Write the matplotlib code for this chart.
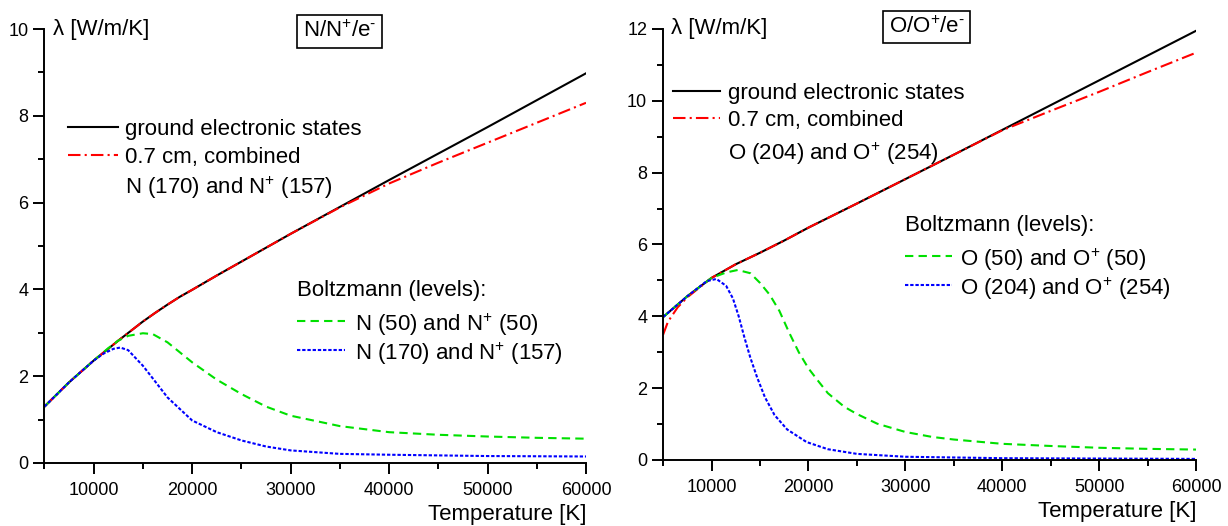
import numpy as np
import matplotlib
matplotlib.use("Agg")
import matplotlib.pyplot as plt
from matplotlib.ticker import MultipleLocator

plt.rcParams.update({
    'font.family': ['Liberation Sans', 'DejaVu Sans'],
    'mathtext.fontset': 'custom',
    'mathtext.rm': 'Liberation Sans',
    'mathtext.it': 'Liberation Sans:italic',
    'font.size': 16,
    'xtick.labelsize': 13,
    'ytick.labelsize': 13,
    'lines.linewidth': 1.5,
})

# ---- N/N+/e- : thermal conductivity [W/m/K] vs temperature [K] ----
t_n_ground = [5000, 7500, 10000, 12500, 15000, 16250, 17500, 18750, 20000,
              22500, 25000, 30000, 35000, 40000, 45000, 50000, 55000, 60000]
lam_n_ground = [1.30, 1.86, 2.36, 2.82, 3.26, 3.46, 3.65, 3.83, 3.99,
                4.32, 4.64, 5.28, 5.90, 6.52, 7.13, 7.74, 8.36, 8.98]

t_n_comb = [5000, 7500, 10000, 12500, 15000, 16250, 17500, 18750, 20000,
            22500, 25000, 30000, 35000, 40000, 45000, 50000, 55000, 60000]
lam_n_comb = [1.30, 1.86, 2.36, 2.82, 3.26, 3.46, 3.65, 3.83, 3.99,
              4.32, 4.64, 5.28, 5.89, 6.44, 6.92, 7.38, 7.84, 8.30]

t_n_b50 = [5000, 7500, 10000, 11500, 12500, 13500, 15000, 16000, 17500, 20000,
           22500, 25000, 27500, 30000, 35000, 40000, 45000, 50000, 55000, 60000]
lam_n_b50 = [1.30, 1.86, 2.36, 2.65, 2.82, 2.93, 2.99, 2.97, 2.78, 2.32,
             1.92, 1.59, 1.30, 1.09, 0.85, 0.71, 0.65, 0.61, 0.58, 0.56]

t_n_b170 = [5000, 7500, 10000, 11000, 12000, 12700, 13500, 15000, 16000, 17500,
            20000, 22500, 25000, 27500, 30000, 35000, 40000, 50000, 60000]
lam_n_b170 = [1.30, 1.86, 2.36, 2.52, 2.63, 2.66, 2.60, 2.24, 1.95, 1.51,
              0.98, 0.71, 0.52, 0.38, 0.29, 0.21, 0.19, 0.16, 0.15]

# ---- O/O+/e- ----
t_o_ground = [5000, 7500, 10000, 12500, 15000, 17500, 20000, 25000, 30000,
              35000, 40000, 45000, 50000, 55000, 60000]
lam_o_ground = [3.98, 4.56, 5.07, 5.45, 5.77, 6.11, 6.47, 7.14, 7.82,
                8.50, 9.19, 9.88, 10.57, 11.26, 11.95]

t_o_comb = [5000, 5500, 6500, 7500, 10000, 12500, 15000, 17500, 20000, 25000,
            30000, 35000, 40000, 45000, 50000, 55000, 60000]
lam_o_comb = [3.49, 3.85, 4.25, 4.53, 5.07, 5.45, 5.77, 6.11, 6.47, 7.14,
              7.82, 8.50, 9.18, 9.72, 10.25, 10.80, 11.34]

t_o_b50 = [5000, 7500, 10000, 11500, 12700, 14000, 15000, 16000, 17000, 18000,
           19000, 20000, 21000, 22000, 23700, 25000, 27100, 30000, 32800,
           35000, 40000, 45000, 50000, 55000, 60000]
lam_o_b50 = [3.98, 4.56, 5.07, 5.22, 5.29, 5.20, 4.93, 4.60, 4.15, 3.55,
             3.00, 2.55, 2.20, 1.86, 1.48, 1.28, 1.01, 0.78, 0.64,
             0.57, 0.45, 0.39, 0.34, 0.31, 0.29]

t_o_b204 = [5000, 7500, 9500, 10500, 11500, 12200, 12800, 13400, 14000, 14700,
            15500, 16500, 17800, 19800, 22000, 25000, 30000, 35000, 40000,
            50000, 60000]
lam_o_b204 = [3.98, 4.56, 4.98, 5.04, 4.85, 4.50, 4.00, 3.40, 2.85, 2.30,
              1.75, 1.25, 0.85, 0.50, 0.30, 0.17, 0.09, 0.07, 0.05,
              0.04, 0.03]

fig = plt.figure(figsize=(12.28, 5.26), dpi=100)
ax1 = fig.add_axes([0.0362, 0.1198, 0.441, 0.825])
ax2 = fig.add_axes([0.540, 0.1255, 0.434, 0.8194])

GREEN = '#00e000'
red_dd = (0, (6, 2, 1, 2))
green_d = (0, (4, 2.5))
blue_dot = (0, (1.6, 0.9))


def style_axes(ax, ymax):
    ax.set_xlim(5000, 60000)
    ax.set_ylim(0, ymax)
    ax.xaxis.set_minor_locator(MultipleLocator(5000))
    ax.yaxis.set_major_locator(MultipleLocator(2))
    ax.yaxis.set_minor_locator(MultipleLocator(1))
    ax.set_xticks([10000, 20000, 30000, 40000, 50000, 60000])
    ax.spines['top'].set_visible(False)
    ax.spines['right'].set_visible(False)
    for s in ('left', 'bottom'):
        ax.spines[s].set_linewidth(1.4)
    ax.tick_params(which='major', direction='out', length=8, width=1.4)
    ax.tick_params(which='minor', direction='out', length=4, width=1.4)
    ax.tick_params(axis='x', pad=6)
    ax.text(0.015, 1.0, 'λ [W/m/K]', transform=ax.transAxes,
            ha='left', va='center')
    ax.text(1.0, -0.095, 'Temperature [K]', transform=ax.transAxes,
            ha='right', va='top')


def key_row(ax, x0, x1, xt, y, label, **line_kw):
    # one legend row: sample line plus its label, in axes fractions
    if line_kw:
        ax.plot([x0, x1], [y, y], transform=ax.transAxes, clip_on=False,
                **line_kw)
    ax.text(xt, y, label, transform=ax.transAxes, ha='left',
            va='center_baseline')


def add_keys(ax, third, b50, bfull, top, bottom):
    x0, x1, xt, ys = top
    key_row(ax, x0, x1, xt, ys[0], 'ground electronic states', color='black')
    key_row(ax, x0, x1, xt, ys[1], '0.7 cm, combined', color='red',
            linestyle=red_dd)
    key_row(ax, x0, x1, xt, ys[2], third)
    x0, x1, xt, ys = bottom
    ax.text(x0, ys[0], 'Boltzmann (levels):', transform=ax.transAxes,
            ha='left', va='center_baseline')
    key_row(ax, x0, x1, xt, ys[1], b50, color=GREEN, linestyle=green_d)
    key_row(ax, x0, x1, xt, ys[2], bfull, color='blue', linestyle=blue_dot)


# left panel: nitrogen
ax1.plot(t_n_ground, lam_n_ground, color='black')
ax1.plot(t_n_comb, lam_n_comb, color='red', linestyle=red_dd)
ax1.plot(t_n_b50, lam_n_b50, color=GREEN, linestyle=green_d)
ax1.plot(t_n_b170, lam_n_b170, color='blue', linestyle=blue_dot)
style_axes(ax1, 10)
add_keys(ax1, r'N (170) and N$^{+}$ (157)',
         r'N (50) and N$^{+}$ (50)', r'N (170) and N$^{+}$ (157)',
         (0.0434, 0.1357, 0.1496, (0.774, 0.710, 0.643)),
         (0.466, 0.555, 0.573, (0.403, 0.327, 0.260)))
ax1.text(0.545, 0.995, r'N/N$^{+}$/e$^{\text{-}}$', transform=ax1.transAxes,
         ha='center', va='center',
         bbox=dict(boxstyle='square,pad=0.25', fc='white', ec='black', lw=1.2))

# right panel: oxygen
ax2.plot(t_o_ground, lam_o_ground, color='black')
ax2.plot(t_o_comb, lam_o_comb, color='red', linestyle=red_dd)
ax2.plot(t_o_b50, lam_o_b50, color=GREEN, linestyle=green_d)
ax2.plot(t_o_b204, lam_o_b204, color='blue', linestyle=blue_dot)
style_axes(ax2, 12)
add_keys(ax2, r'O (204) and O$^{+}$ (254)',
         r'O (50) and O$^{+}$ (50)', r'O (204) and O$^{+}$ (254)',
         (0.0188, 0.107, 0.122, (0.856, 0.7935, 0.719)),
         (0.454, 0.542, 0.557, (0.550, 0.473, 0.406)))
ax2.text(0.495, 1.005, r'O/O$^{+}$/e$^{\text{-}}$', transform=ax2.transAxes,
         ha='center', va='center',
         bbox=dict(boxstyle='square,pad=0.25', fc='white', ec='black', lw=1.2))

fig.savefig('out.png', dpi=100)
